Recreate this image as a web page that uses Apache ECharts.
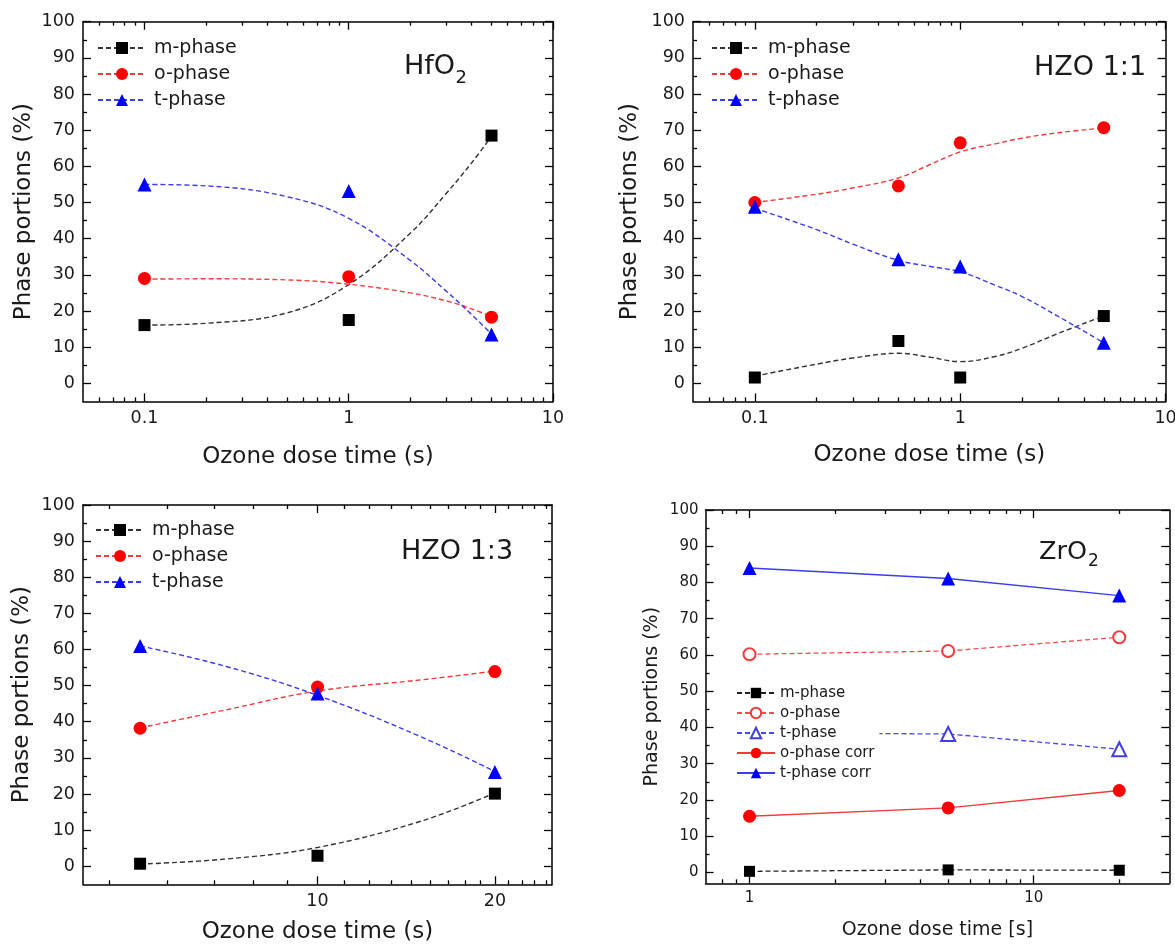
<!DOCTYPE html>
<html>
<head>
<meta charset="utf-8">
<script src="https://cdn.jsdelivr.net/npm/echarts@6/dist/echarts.min.js"></script>
<style>
  html, body { margin: 0; padding: 0; background: #fff; }
  #main { width: 1175px; height: 944px; }
</style>
</head>
<body>
<div id="main"></div>
<script>
// ---- HfO2 (top left) ----
var hfTime = [0.1, 1, 5];
var hfM = [16.1, 17.5, 68.5];
var hfO = [29, 29.5, 18.3];
var hfT = [55, 53.2, 13.5];
// dashed fit curves
var hfFitTime = [0.1, 0.2, 0.5, 1, 2, 3, 4, 5];
var hfFitM = [16.1, 16.6, 19.5, 27.3, 41.5, 52.5, 61, 68.3];
var hfFitO = [28.8, 28.9, 28.6, 27.4, 25, 22.8, 20.6, 18.4];
var hfFitT = [55, 54.6, 51.6, 45.6, 34, 25.5, 19, 13.6];

// ---- HZO 1:1 (top right) ----
var hzTime = [0.1, 0.5, 1, 5];
var hzM = [1.6, 11.7, 1.6, 18.6];
var hzO = [50, 54.6, 66.5, 70.7];
var hzT = [48.8, 34.3, 32.3, 11.2];
var hzFitTime = [0.1, 0.2, 0.3, 0.5, 0.7, 1, 1.5, 2, 3, 5];
var hzFitM = [2, 5.3, 7, 8.3, 7.3, 6, 7.5, 9.7, 13.8, 18.6];
var hzFitO = [50, 52.3, 54, 56.8, 60.3, 64, 66.3, 67.8, 69.3, 70.6];
var hzFitT = [48.4, 42.5, 38.5, 34, 32.4, 30.8, 27, 24, 18.5, 11.2];

// ---- HZO 1:3 (bottom left) ----
var h3Time = [5, 10, 20];
var h3M = [0.7, 2.9, 20.1];
var h3O = [38.2, 49.6, 53.9];
var h3T = [61, 47.8, 26.1];
var h3FitTime = [5, 7, 10, 15, 20];
var h3FitM = [0.6, 2.0, 5.2, 12.5, 20.3];
var h3FitO = [38.3, 43.3, 48.5, 51.6, 54];
var h3FitT = [61, 55.3, 47.3, 35.8, 26.2];

// ---- ZrO2 (bottom right) ----
var zrTime = [1, 5, 20];
var zrM = [0.3, 0.7, 0.6];
var zrO = [60.2, 61.1, 64.9];
var zrT = [38.5, 38.2, 34];
var zrOCorr = [15.5, 17.8, 22.6];
var zrTCorr = [84, 81.1, 76.4];

// ---- ticks ----
var yMajor = [0, 10, 20, 30, 40, 50, 60, 70, 80, 90, 100];
var yMinor = [5, 15, 25, 35, 45, 55, 65, 75, 85, 95];
var logMajorA = [0.1, 1, 10];
var logMinorA = [0.06, 0.07, 0.08, 0.09, 0.2, 0.3, 0.4, 0.5, 0.6, 0.7, 0.8, 0.9, 2, 3, 4, 5, 6, 7, 8, 9];
var h3Major = [10, 20];
var h3Minor = [4.44, 5.56, 6.67, 7.78, 8.89, 11.11, 12.22, 13.33, 14.44, 15.56, 16.67, 17.78, 18.89, 21.11, 22.22, 23.33, 24.44];
var zrMajor = [1, 10];
var zrMinor = [0.8, 0.9, 2, 3, 4, 5, 6, 7, 8, 9, 20];

var FONT = 'DejaVu Sans';
var INK = '#1a1a1a';

function pairs(xs, ys) {
  return xs.map(function (x, i) { return [x, ys[i]]; });
}
function fmt(v) { return String(+(+v).toPrecision(6)); }

var panels = [
  { rect: { left: 83, top: 21.7, width: 470, height: 379.7 }, xMin: 0.05, xMax: 10, yMin: -5,
    xMajor: logMajorA, xMinor: logMinorA, font: 17.5, nameFont: 23, xGap: 44, yGap: 47, margin: 8,
    xName: 'Ozone dose time (s)' },
  { rect: { left: 693, top: 21.7, width: 472.6, height: 379.7 }, xMin: 0.05, xMax: 10, yMin: -5,
    xMajor: logMajorA, xMinor: logMinorA, font: 17.5, nameFont: 23, xGap: 42, yGap: 51, margin: 8,
    xName: 'Ozone dose time (s)' },
  { rect: { left: 83, top: 505, width: 469, height: 379.3 }, xMin: 4, xMax: 25, yMin: -5,
    xMajor: h3Major, xMinor: h3Minor, font: 17.5, nameFont: 23, xGap: 36, yGap: 49, margin: 8,
    xName: 'Ozone dose time (s)' },
  { rect: { left: 705.5, top: 510, width: 463.8, height: 373.3 }, xMin: 0.7, xMax: 30, yMin: -3,
    xMajor: zrMajor, xMinor: zrMinor, font: 15, nameFont: 19, xGap: 37, yGap: 44, margin: 7,
    xName: 'Ozone dose time [s]' }
];

var option = {
  animation: false,
  backgroundColor: '#fff',
  grid: [], xAxis: [], yAxis: [], legend: [], series: [], graphic: []
};

var edge = { color: '#000', width: 1.5 };

panels.forEach(function (pn, p) {
  var gA = 2 * p, gB = 2 * p + 1;
  option.grid.push(Object.assign({ outerBoundsMode: 'none', containLabel: false }, pn.rect));
  option.grid.push(Object.assign({ outerBoundsMode: 'none', containLabel: false }, pn.rect));

  var labelStyle = { fontFamily: FONT, fontSize: pn.font, color: INK, margin: pn.margin, formatter: fmt };
  var nameStyle = { fontFamily: FONT, fontSize: pn.nameFont, color: INK };

  function xAx(grid, pos, ticks, len, lineShow, labels, name) {
    return {
      type: 'log', logBase: 10, gridIndex: grid, position: pos, min: pn.xMin, max: pn.xMax,
      axisLine: { show: lineShow, onZero: false, lineStyle: edge },
      axisTick: { show: true, inside: true, length: len, customValues: ticks, lineStyle: { color: '#000', width: 1.3 } },
      minorTick: { show: false },
      axisLabel: labels ? Object.assign({ show: true, customValues: labels }, labelStyle) : { show: false },
      splitLine: { show: false },
      name: name || '', nameLocation: 'middle', nameGap: pn.xGap, nameTextStyle: nameStyle
    };
  }
  function yAx(grid, pos, ticks, len, lineShow, labels, name) {
    return {
      type: 'value', gridIndex: grid, position: pos, min: pn.yMin, max: 100,
      axisLine: { show: lineShow, onZero: false, lineStyle: edge },
      axisTick: { show: true, inside: true, length: len, customValues: ticks, lineStyle: { color: '#000', width: 1.3 } },
      minorTick: { show: false },
      axisLabel: labels ? Object.assign({ show: true, customValues: labels }, labelStyle) : { show: false },
      splitLine: { show: false },
      name: name || '', nameLocation: 'middle', nameGap: pn.yGap, nameTextStyle: nameStyle
    };
  }

  option.xAxis.push(xAx(gA, 'bottom', pn.xMajor, 8, true, pn.xMajor, pn.xName));
  option.xAxis.push(xAx(gA, 'top', pn.xMajor, 8, true, null));
  option.xAxis.push(xAx(gB, 'bottom', pn.xMinor, 4, false, null));
  option.xAxis.push(xAx(gB, 'top', pn.xMinor, 4, false, null));

  option.yAxis.push(yAx(gA, 'left', yMajor, 8, true, yMajor, 'Phase portions (%)'));
  option.yAxis.push(yAx(gA, 'right', yMajor, 8, true, null));
  option.yAxis.push(yAx(gB, 'left', yMinor, 4, false, null));
  option.yAxis.push(yAx(gB, 'right', yMinor, 4, false, null));
});

// panels 1-3: fitted dashed curves + measured markers
function fitPanel(p, time, m, o, t, fitTime, fm, fo, ft, legendPos) {
  var tag = '|' + p;
  var phases = [
    { name: 'm-phase', pts: m, fit: fm, sym: 'rect', size: 12, color: '#000000', line: '#333333' },
    { name: 'o-phase', pts: o, fit: fo, sym: 'circle', size: 13, color: '#ff0000', line: '#f03c3c' },
    { name: 't-phase', pts: t, fit: ft, sym: 'triangle', size: 14, color: '#0000ff', line: '#3c3cf0' }
  ];
  var names = [];
  phases.forEach(function (ph) {
    names.push(ph.name + tag);
    option.series.push({
      name: ph.name + tag, type: 'line', xAxisIndex: 4 * p, yAxisIndex: 4 * p,
      data: pairs(fitTime, ph.fit), smooth: 0.4, showSymbol: false,
      symbol: ph.sym, symbolSize: ph.size, color: ph.color,
      itemStyle: { color: ph.color },
      lineStyle: { color: ph.line, width: 1.4, type: [5, 3] },
      silent: true, z: 2
    });
    option.series.push({
      name: ph.name + tag, type: 'scatter', xAxisIndex: 4 * p, yAxisIndex: 4 * p,
      data: pairs(time, ph.pts), symbol: ph.sym, symbolSize: ph.size,
      itemStyle: { color: ph.color, opacity: 1 }, silent: true, z: 3
    });
  });
  option.legend.push({
    orient: 'vertical', left: legendPos[0], top: legendPos[1], data: names,
    itemWidth: 48, itemHeight: 15, itemGap: 6, selectedMode: false,
    formatter: function (n) { return n.split('|')[0]; },
    textStyle: { fontFamily: FONT, fontSize: 19, color: INK, lineHeight: 20, padding: [0, 0, 0, 3] }
  });
}

fitPanel(0, hfTime, hfM, hfO, hfT, hfFitTime, hfFitM, hfFitO, hfFitT, [92, 33]);
fitPanel(1, hzTime, hzM, hzO, hzT, hzFitTime, hzFitM, hzFitO, hzFitT, [706, 33]);
fitPanel(2, h3Time, h3M, h3O, h3T, h3FitTime, h3FitM, h3FitO, h3FitT, [90, 515]);

// panel 4: straight connecting lines
var zrSeries = [
  { name: 'm-phase', ys: zrM, sym: 'rect', size: 11, color: '#000000', line: '#222222', dash: [5, 3] },
  { name: 'o-phase', ys: zrO, sym: 'emptyCircle', size: 12, color: '#f03c3c', line: '#f05050', dash: [5, 3] },
  { name: 't-phase', ys: zrT, sym: 'emptyTriangle', size: 14, color: '#4040e0', line: '#4848f0', dash: [5, 3] },
  { name: 'o-phase corr', ys: zrOCorr, sym: 'circle', size: 13, color: '#ff0000', line: '#f03c3c', dash: 'solid' },
  { name: 't-phase corr', ys: zrTCorr, sym: 'triangle', size: 14, color: '#0000ff', line: '#3c3cf0', dash: 'solid' }
];
var zrNames = [];
zrSeries.forEach(function (s) {
  zrNames.push(s.name + '|3');
  option.series.push({
    name: s.name + '|3', type: 'line', xAxisIndex: 12, yAxisIndex: 12,
    data: pairs(zrTime, s.ys), symbol: s.sym, symbolSize: s.size, showSymbol: true,
    color: s.color, itemStyle: { color: s.color, borderWidth: 1.5 },
    lineStyle: { color: s.line, width: 1.3, type: s.dash }, silent: true, z: 2
  });
});
option.legend.push({
  orient: 'vertical', left: 731, top: 679, data: zrNames, z: 10,
  backgroundColor: '#fff', padding: 5,
  itemWidth: 38, itemHeight: 13, itemGap: 2, selectedMode: false,
  formatter: function (n) { return n.split('|')[0]; },
  textStyle: { fontFamily: FONT, fontSize: 15, color: INK, lineHeight: 18 }
});

// sample labels inside the panels
function txt(x, y, s, size) {
  return { type: 'text', x: x, y: y, z: 20,
    style: { text: s, fontFamily: FONT, fontSize: size, fill: INK, verticalAlign: 'middle' } };
}
option.graphic = [
  txt(404, 67, 'HfO', 27), txt(455.5, 78.5, '2', 18),
  txt(1034, 67.5, 'HZO 1:1', 27),
  txt(401, 551.7, 'HZO 1:3', 27),
  txt(1039, 552.5, 'ZrO', 25.5), txt(1088, 562, '2', 17)
];

var myChart = echarts.init(document.getElementById('main'), null, { renderer: 'canvas' });
myChart.setOption(option);
</script>
</body>
</html>
